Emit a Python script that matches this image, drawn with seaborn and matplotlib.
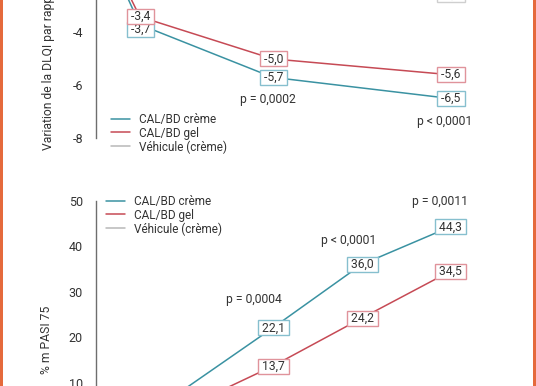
import matplotlib
matplotlib.use("Agg")
import matplotlib.pyplot as plt
import seaborn as sns
import pandas as pd
from matplotlib.patches import Rectangle

# ---------------- data ----------------
series_names = ["CAL/BD crème", "CAL/BD gel", "Véhicule (crème)"]

dlqi_weeks = [0, 1, 4, 8]
dlqi_creme = [0, -3.7, -5.7, -6.5]
dlqi_gel = [0, -3.4, -5.0, -5.6]
dlqi_vehicule = [0, -1.8, -2.3, -2.55]
dlqi_yticks = [-8, -6, -4, -2, 0]
dlqi_label_weeks = [1, 4, 8]
dlqi_pvalues = ["p = 0,0002", "p < 0,0001"]
dlqi_pvalue_weeks = [4, 8]
dlqi_ylabel = "Variation de la DLQI par rapport à l'inclusion"

pasi_weeks = [0, 2, 4, 6, 8]
pasi_creme = [0, 8.6, 22.1, 36.0, 44.3]
pasi_gel = [0, 4.5, 13.7, 24.2, 34.5]
pasi_vehicule = [0, 1.5, 2.9, 4.8, 6.9]
pasi_yticks = [0, 10, 20, 30, 40, 50]
pasi_label_weeks = [4, 6, 8]
pasi_pvalues = ["p = 0,0004", "p < 0,0001", "p = 0,0011"]
pasi_pvalue_weeks = [4, 6, 8]
pasi_ylabel = "% m PASI 75"

# ---------------- style ----------------
line_colors = ["#3a92a2", "#c64a55", "#b8b8b8"]
box_edges = ["#86bfce", "#e0939b", "#cfcfcf"]
text_color = "#333333"
spine_color = "#6e6e6e"
border_color = "#e56a3c"

sns.set_style("white")
plt.rcParams["font.family"] = ["Roboto", "DejaVu Sans"]
plt.rcParams["axes.unicode_minus"] = False
plt.rcParams["text.color"] = text_color

W, H = 536, 386
fig = plt.figure(figsize=(W / 100, H / 100), dpi=100)


def fx(px):
    return px / W


def fy(py):
    return 1 - py / H


px_per_week = 44.3
x0_px = 95.5
xmax = 9


def make_axes(y_top_px, y_bot_px):
    ax = fig.add_axes([fx(x0_px), fy(y_bot_px), xmax * px_per_week / W, (y_bot_px - y_top_px) / H])
    return ax


def long_df(weeks, a, b, c):
    rows = []
    for name, vals in zip(series_names, [a, b, c]):
        for w, v in zip(weeks, vals):
            rows.append({"semaine": w, "valeur": v, "traitement": name})
    return pd.DataFrame(rows)


def style_axes(ax, yticks, ylim):
    ax.set_xlim(0, xmax)
    ax.set_ylim(*ylim)
    ax.set_yticks(yticks)
    ax.set_xticks([])
    ax.set_xlabel("")
    for s in ["top", "right", "bottom"]:
        ax.spines[s].set_visible(False)
    ax.spines["left"].set_color(spine_color)
    ax.spines["left"].set_linewidth(1.0)
    ax.tick_params(axis="y", direction="out", length=5, width=1.0, color=spine_color,
                   labelsize=9, labelcolor=text_color, pad=4)
    ax.patch.set_alpha(0)


def fmt(v):
    return " " + f"{v:.1f}".replace(".", ",") + " "


def add_labels(ax, weeks, series, label_weeks, offsets):
    for i, vals in enumerate(series):
        for w, v in zip(weeks, vals):
            if w not in label_weeks:
                continue
            dy = offsets.get((i, w), 0)
            ax.annotate(fmt(v), xy=(w, v), xytext=(1, dy), textcoords="offset pixels",
                        ha="center", va="center", fontsize=8.7, color=text_color,
                        bbox=dict(boxstyle="square,pad=0.08", fc="white", ec=box_edges[i], lw=1.0),
                        zorder=5, annotation_clip=False)


def add_legend(ax, x_px, y_px):
    handles, labels = ax.get_legend_handles_labels()
    ax.legend(handles, labels, loc="upper left", bbox_to_anchor=(fx(x_px), fy(y_px)),
              bbox_transform=fig.transFigure, frameon=False, borderpad=0, borderaxespad=0,
              handlelength=1.6, handletextpad=0.75, labelspacing=0.05, fontsize=8.5,
              labelcolor=text_color)


# ---------------- top chart: DLQI ----------------
ax1 = make_axes(-73, 138)
df1 = long_df(dlqi_weeks, dlqi_creme, dlqi_gel, dlqi_vehicule)
sns.lineplot(data=df1, x="semaine", y="valeur", hue="traitement", hue_order=series_names,
             palette=line_colors, linewidth=1.1, ax=ax1, sort=False, estimator=None)
style_axes(ax1, dlqi_yticks, (-8, 0))
add_labels(ax1, dlqi_weeks, [dlqi_creme, dlqi_gel, dlqi_vehicule], dlqi_label_weeks,
           {(0, 1): -4.5, (1, 1): 0.5})
for txt, w, dx, dy in zip(dlqi_pvalues, dlqi_pvalue_weeks, [-5, -5], [-22, -23]):
    v = dlqi_creme[dlqi_weeks.index(w)]
    ax1.annotate(txt, xy=(w, v), xytext=(dx, dy), textcoords="offset pixels",
                 ha="center", va="center", fontsize=8.7, color=text_color)
ax1.set_ylabel(dlqi_ylabel, fontsize=8.7, color=text_color, va="center")
ax1.yaxis.set_label_coords(fx(49), fy(32.5), transform=fig.transFigure)
add_legend(ax1, 111, 113)

# ---------------- bottom chart: PASI 75 ----------------
ax2 = make_axes(201, 428.5)
df2 = long_df(pasi_weeks, pasi_creme, pasi_gel, pasi_vehicule)
sns.lineplot(data=df2, x="semaine", y="valeur", hue="traitement", hue_order=series_names,
             palette=line_colors, linewidth=1.1, ax=ax2, sort=False, estimator=None)
style_axes(ax2, pasi_yticks, (0, 50))
add_labels(ax2, pasi_weeks, [pasi_creme, pasi_gel, pasi_vehicule], pasi_label_weeks, {})
for txt, w, dx, dy in zip(pasi_pvalues, pasi_pvalue_weeks, [-19, -13, -10], [28, 24, 25]):
    v = pasi_creme[pasi_weeks.index(w)]
    ax2.annotate(txt, xy=(w, v), xytext=(dx, dy), textcoords="offset pixels",
                 ha="center", va="center", fontsize=8.7, color=text_color)
ax2.set_ylabel(pasi_ylabel, fontsize=8.7, color=text_color, va="center")
ax2.yaxis.set_label_coords(fx(47), fy(340), transform=fig.transFigure)
add_legend(ax2, 106, 195)

# ---------------- page borders ----------------
fig.add_artist(Rectangle((0, 0), fx(3), 1, transform=fig.transFigure, color=border_color, lw=0))
fig.add_artist(Rectangle((fx(533), 0), fx(3), 1, transform=fig.transFigure, color=border_color, lw=0))

fig.savefig("out.png", dpi=100)
